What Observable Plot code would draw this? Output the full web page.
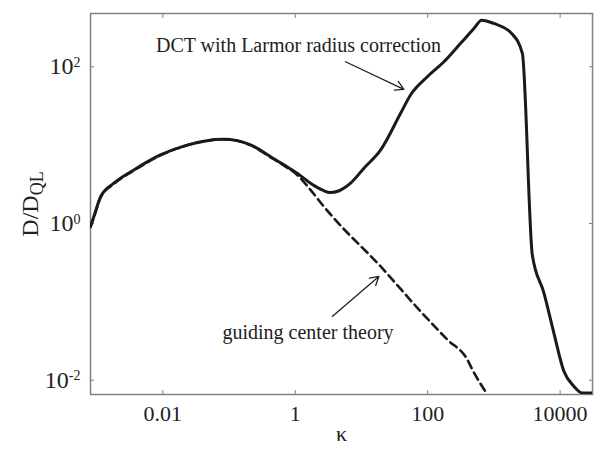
<!DOCTYPE html>
<html><head><meta charset="utf-8">
<script src="https://cdn.jsdelivr.net/npm/d3@7"></script>
<script src="https://cdn.jsdelivr.net/npm/@observablehq/plot@0.6"></script>
<style>body{margin:0;background:#fff} svg text{font-family:"Liberation Serif","Times New Roman",serif}</style>
</head><body><div id="chart"></div>
<script>
// DCT with Larmor radius correction (solid)
const dctKappa = [0.00081, 0.00091, 0.00115, 0.00182, 0.00365, 0.0092, 0.0234, 0.083, 0.211, 0.425, 0.673, 1.07, 1.70, 2.60, 3.4, 4.6, 6.84, 10.9, 19.5, 39, 55, 98.6, 176, 314, 499, 652, 1000, 1853, 2690, 3800, 5690, 8050, 11400, 16100, 21600, 31000];
const dctD = [0.93, 1.23, 2.2, 3.27, 4.83, 7.5, 10, 11.9, 10.1, 7.13, 5.6, 4.38, 3.27, 2.66, 2.48, 2.62, 3.27, 5.08, 8.7, 25.5, 43.7, 74.6, 116, 199, 308, 393, 357, 266, 148, 0.40, 0.13, 0.040, 0.013, 0.0084, 0.0069, 0.0069];
// guiding center theory (dashed)
const gcKappa = [0.00081, 0.00091, 0.00115, 0.00182, 0.00365, 0.0092, 0.0234, 0.083, 0.211, 0.425, 0.673, 1.07, 1.70, 2.70, 3.83, 19.5, 78, 198, 396, 472, 795];
const gcD = [0.9, 1.2, 2.15, 3.2, 4.75, 7.4, 10, 11.9, 10.0, 7.0, 5.5, 4.17, 2.69, 1.65, 1.17, 0.283, 0.0757, 0.033, 0.0184, 0.0137, 0.0066];

const xTicks = [0.01, 1, 100, 10000];
const yTicks = [0.01, 1, 100];

const annotationLabels = ["DCT with Larmor radius correction", "guiding center theory"];
const annotationKappa = [1.12, 1.56];
const annotationD = [189, 0.0406];
const arrowFromKappa = [5.75, 3.62];
const arrowFromD = [116, 0.0653];
const arrowToKappa = [43.7, 18.3];
const arrowToD = [51.5, 0.211];

const dct = dctKappa.map((k, i) => ({k, d: dctD[i]}));
const gc = gcKappa.map((k, i) => ({k, d: gcD[i]}));
const notes = annotationLabels.map((t, i) => ({t, k: annotationKappa[i], d: annotationD[i]}));
const arrows = arrowFromKappa.map((k, i) => ({k1: k, d1: arrowFromD[i], k2: arrowToKappa[i], d2: arrowToD[i]}));

const serif = "'Liberation Serif', 'Times New Roman', serif";
const axisColor = "#808080";
const chart = Plot.plot({
  width: 600, height: 451,
  marginLeft: 90, marginRight: 8, marginTop: 13, marginBottom: 57,
  style: {fontFamily: serif, fontSize: "21px", color: "#222", background: "#fff"},
  x: {type: "log", domain: [0.000809, 30830]},
  y: {type: "log", domain: [0.00658, 478.6]},
  marks: [
    Plot.frame({stroke: axisColor, strokeWidth: 1.5}),
    Plot.axisX(xTicks, {anchor: "bottom", tickSize: 0, tickPadding: 11, tickFormat: d => String(d), label: "κ", labelAnchor: "center", labelArrow: "none", labelOffset: 46, fontSize: 22, fontFamily: serif}),
    Plot.axisX(xTicks, {anchor: "bottom", tickSize: -4, text: null, label: null, stroke: axisColor}),
    Plot.axisX(xTicks, {anchor: "top", tickSize: -4, text: null, label: null, stroke: axisColor}),
    Plot.axisY(yTicks, {anchor: "left", tickSize: 0, tickPadding: 10, tickFormat: d => "10^" + Math.round(Math.log10(d)), label: "D/D_QL", labelAnchor: "center", labelArrow: "none", labelOffset: 70, fontSize: 24, fontFamily: serif}),
    Plot.axisY(yTicks, {anchor: "left", tickSize: -4, text: null, label: null, stroke: axisColor}),
    Plot.axisY(yTicks, {anchor: "right", tickSize: -4, text: null, label: null, stroke: axisColor}),
    Plot.line(gc, {x: "k", y: "d", stroke: "#1a1a1a", strokeWidth: 2.6, strokeDasharray: "8,5", clip: true, curve: "monotone-x"}),
    Plot.line(dct, {x: "k", y: "d", stroke: "#1a1a1a", strokeWidth: 3, clip: true, curve: "monotone-x"}),
    Plot.text(notes, {x: "k", y: "d", text: "t", fontSize: 20, fill: "#222", fontFamily: serif}),
    Plot.arrow(arrows, {x1: "k1", y1: "d1", x2: "k2", y2: "d2", stroke: "#222", strokeWidth: 1.3, headLength: 11, bend: 0})
  ]
});

// superscript exponents on y tick labels
d3.select(chart).selectAll('g[aria-label="y-axis tick label"] text').each(function() {
  const s = this.textContent;
  const [base, exp] = s.split("^");
  const t = d3.select(this);
  t.text(null);
  t.append("tspan").text(base);
  t.append("tspan").attr("dy", "-0.55em").attr("font-size", "14px").text(exp);
});
// subscript on y label
d3.select(chart).selectAll('g[aria-label="y-axis label"] text').each(function() {
  const t = d3.select(this);
  t.text(null);
  t.append("tspan").text("D/D");
  t.append("tspan").attr("dy", "0.3em").attr("font-size", "18px").text("QL");
});
document.getElementById("chart").appendChild(chart);
</script>
</body></html>
